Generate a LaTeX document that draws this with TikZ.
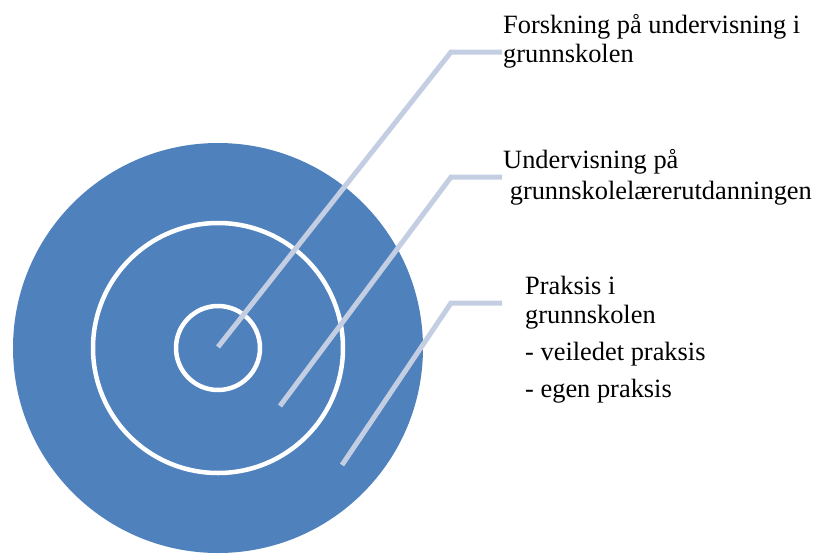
\documentclass[tikz,border=0pt]{standalone}
\usepackage{fontspec}
\setmainfont{Liberation Serif}
\usepackage{xcolor}
\definecolor{ringblue}{HTML}{4F81BD}
\definecolor{leadgray}{HTML}{C4CEE2}

\begin{document}
\begin{tikzpicture}[
  x=1pt, y=-1pt,
  ring/.style={circle, draw=white, line width=4.5pt, inner sep=0pt},
  lead/.style={draw=leadgray, line width=5pt},
  lbl/.style={anchor=base west, align=left, inner sep=0pt, font=\fontsize{26.4}{29}\selectfont}
]
\useasboundingbox (0,0) rectangle (815,555);
% the three rings
\node[circle, fill=ringblue, minimum size=410pt, inner sep=0pt] (outer) at (218,348) {};
\node[ring, minimum size=250pt] (middle) at (218,348) {};
\node[ring, minimum size=84pt] (inner) at (218,348) {};
% labels (placed at the baseline of their last line)
\node[lbl] (forsk) at (503,62) {Forskning på undervisning i\\grunnskolen};
\node[lbl] (underv) at (503,199) {Undervisning på\\[2pt] \ grunnskolelærerutdanningen};
\node[lbl] (praks) at (525,397) {Praksis i\\grunnskolen\\[8pt]- veiledet praksis\\[8pt]- egen praksis};
% leader lines
\coordinate (tipA) at (218,347);
\coordinate (tipB) at (280,406);
\coordinate (tipC) at (342,465);
\coordinate (endA) at (502,52);
\coordinate (endB) at (502,177);
\coordinate (endC) at (502,303);
\draw[lead] (tipA) -- (451,52) -- (endA);
\draw[lead] (tipB) -- (451,177) -- (endB);
\draw[lead] (tipC) -- (451,303) -- (endC);
\end{tikzpicture}
\end{document}
